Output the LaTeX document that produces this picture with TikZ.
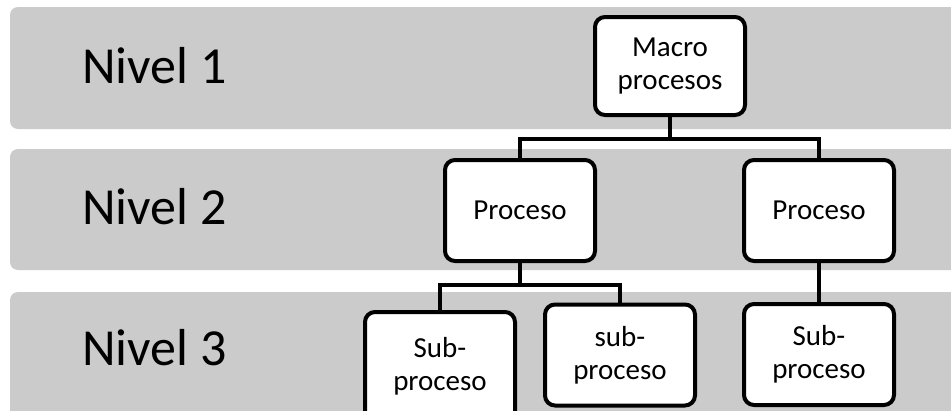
\documentclass[tikz,border=0pt]{standalone}
\usepackage{fontspec}
\setmainfont{Carlito}
\definecolor{bandgray}{RGB}{203,203,203}
\tikzset{
  band/.style={fill=bandgray, rounded corners=8pt},
  level/.style={anchor=base west, inner sep=0pt, font=\fontsize{52}{60}\selectfont},
  box/.style={draw=black, line width=4pt, fill=white, rounded corners=10pt,
    minimum width=150pt, minimum height=101pt, inner sep=2pt, align=center,
    font=\fontsize{29}{33}\selectfont},
  link/.style={draw=black, line width=4pt}
}
\begin{document}
\begin{tikzpicture}[x=1pt, y=-1pt]
  \useasboundingbox (0,0) rectangle (951,410);
  \clip (0,0) rectangle (951,410);

  % level bands
  \fill[band] (10,7) rectangle (970,129);
  \fill[band] (10,149) rectangle (970,270);
  \fill[band] (10,292) rectangle (970,430);

  \node[level] (n1) at (82,83) {Nivel 1};
  \node[level] (n2) at (82,224) {Nivel 2};
  \node[level] (n3) at (82,365) {Nivel 3};

  % hierarchy boxes
  \node[box, minimum height=98pt] (macro) at (670,66) {Macro\\procesos};
  \node[box] (p1) at (520,210.5) {Proceso};
  \node[box] (p2) at (819,210.5) {Proceso};
  \node[box, minimum height=109pt] (s1) at (440,366.5) {Sub-\\proceso};
  \node[box] (s2) at (620,355) {sub-\\proceso};
  \node[box] (s3) at (819,354.5) {Sub-\\proceso};

  % connectors
  \coordinate (j0) at (670,139);
  \coordinate (j1) at (520,285);
  \path[link] (macro.south) -- (j0) -| (p1.north);
  \path[link] (j0) -| (p2.north);
  \path[link] (p1.south) -- (j1) -| (s1.north);
  \path[link] (j1) -| (s2.north);
  \path[link] (p2.south) -- (s3.north);
\end{tikzpicture}
\end{document}
